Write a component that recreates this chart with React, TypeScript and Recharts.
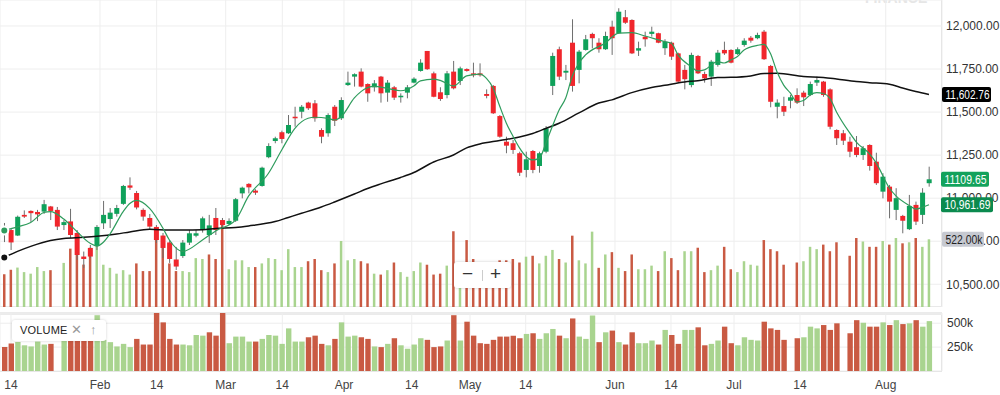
import React from "react";
import {
  ComposedChart,
  Bar,
  Line,
  Cell,
  XAxis,
  YAxis,
  CartesianGrid,
  ReferenceLine,
} from "recharts";

// daily OHLC, one entry per trading session (left to right)
const opens = [
  10835, 10815, 10783, 10903, 10926, 10920, 10922, 10952, 10932, 10844,
  10865, 10798, 10661, 10711, 10722, 10854, 10879, 10909, 10967, 11074,
  11030, 10932, 10885, 10833, 10783, 10743, 10644, 10664, 10742, 10782,
  10815, 10786, 10885, 10873, 10850, 10869, 11028, 11083, 11044, 11071,
  11238, 11332, 11383, 11377, 11473, 11502, 11555, 11551, 11396, 11377,
  11531, 11464, 11657, 11706, 11735, 11663, 11644, 11706, 11613, 11644,
  11586, 11613, 11671, 11739, 11855, 11725, 11615, 11599, 11735, 11681,
  11750, 11725, 11725, 11605, 11652, 11477, 11328, 11319, 11261, 11164,
  11274, 11187, 11270, 11652, 11865, 11729, 11903, 11745, 11861, 11954,
  11903, 11865, 11996, 11958, 12051, 12035, 11857, 11938, 11954, 11958,
  11871, 11903, 11841, 11745, 11657, 11826, 11721, 11706, 11774, 11861,
  11861, 11837, 11890, 11932, 11929, 11967, 11768, 11531, 11535, 11566,
  11599, 11613, 11599, 11671, 11677, 11632, 11396, 11377, 11328, 11296,
  11251, 11309, 11212, 11038, 11067, 10932, 10897, 10820, 10961, 10903,
  11087,
];
const highs = [
  10856, 10821, 10899, 10929, 10929, 10932, 10990, 10955, 10949, 10873,
  10938, 10815, 10690, 10728, 10844, 10984, 10943, 10961, 11077, 11121,
  11042, 10941, 10908, 10844, 10798, 10757, 10717, 10757, 10815, 10815,
  10893, 10903, 10943, 10885, 10883, 11001, 11067, 11087, 11052, 11183,
  11319, 11357, 11392, 11483, 11531, 11541, 11560, 11570, 11406, 11493,
  11541, 11586, 11735, 11725, 11754, 11667, 11686, 11710, 11686, 11652,
  11609, 11657, 11702, 11807, 11855, 11735, 11644, 11739, 11797, 11764,
  11754, 11787, 11783, 11632, 11657, 11483, 11357, 11338, 11270, 11270,
  11280, 11270, 11419, 11845, 11880, 11774, 12039, 11861, 11948, 11961,
  11929, 11967, 12031, 12103, 12093, 12039, 11909, 11967, 11996, 11961,
  11923, 11909, 11845, 11774, 11845, 11832, 11735, 11803, 11861, 11909,
  11865, 11876, 11929, 11942, 11961, 11977, 11774, 11574, 11589, 11599,
  11638, 11624, 11677, 11706, 11681, 11638, 11400, 11396, 11357, 11361,
  11303, 11313, 11264, 11145, 11077, 11058, 10903, 11019, 10980, 11058,
  11183,
];
const lows = [
  10745, 10699, 10780, 10885, 10862, 10867, 10909, 10873, 10815, 10815,
  10769, 10641, 10595, 10653, 10699, 10821, 10827, 10893, 10961, 11048,
  10935, 10869, 10821, 10740, 10653, 10624, 10583, 10653, 10728, 10773,
  10800, 10740, 10786, 10827, 10844, 10862, 10999, 11028, 11019, 11067,
  11232, 11319, 11319, 11373, 11415, 11464, 11512, 11444, 11319, 11357,
  11419, 11454, 11652, 11648, 11644, 11560, 11619, 11555, 11560, 11570,
  11555, 11580, 11667, 11735, 11745, 11586, 11565, 11580, 11632, 11657,
  11735, 11702, 11706, 11580, 11489, 11351, 11261, 11257, 11129, 11121,
  11145, 11148, 11261, 11599, 11686, 11686, 11619, 11667, 11857, 11870,
  11845, 11861, 11832, 11954, 12012, 11837, 11826, 11880, 11938, 11900,
  11832, 11803, 11671, 11632, 11644, 11721, 11671, 11652, 11764, 11832,
  11783, 11832, 11880, 11903, 11923, 11803, 11528, 11464, 11477, 11522,
  11547, 11535, 11593, 11652, 11589, 11400, 11309, 11309, 11238, 11238,
  11222, 11160, 11077, 10999, 10883, 10873, 10796, 10815, 10844, 10850,
  11067,
];
const closes = [
  10803, 10743, 10892, 10893, 10913, 10906, 10965, 10926, 10835, 10861,
  10786, 10670, 10647, 10661, 10833, 10903, 10916, 10943, 11071, 11061,
  10946, 10893, 10835, 10757, 10711, 10647, 10603, 10742, 10796, 10796,
  10883, 10842, 10815, 10844, 10868, 10994, 11061, 11063, 11032, 11177,
  11303, 11348, 11344, 11425, 11464, 11531, 11522, 11464, 11357, 11483,
  11450, 11570, 11671, 11720, 11648, 11609, 11667, 11609, 11671, 11584,
  11595, 11644, 11694, 11787, 11749, 11589, 11576, 11725, 11638, 11754,
  11739, 11714, 11714, 11594, 11493, 11357, 11305, 11280, 11148, 11226,
  11164, 11261, 11406, 11826, 11706, 11740, 11652, 11851, 11923, 11929,
  11865, 11942, 11929, 12083, 12019, 11841, 11871, 11923, 11967, 11903,
  11909, 11822, 11677, 11691, 11832, 11725, 11696, 11793, 11845, 11841,
  11787, 11865, 11915, 11915, 11948, 11807, 11560, 11555, 11502, 11586,
  11555, 11586, 11663, 11686, 11599, 11415, 11348, 11334, 11270, 11251,
  11290, 11187, 11087, 11125, 10980, 11000, 10869, 10955, 10864, 11032,
  11109.65,
];

// volume in thousands (null = no print that day)
const volumes: (number | null)[] = [
  252, 287, 304, 269, 257, 308, 277, 284, null, 340,
  450, 405, 327, 457, 584, 326, 302, 257, 284, 250,
  336, 277, 277, 615, 509, 336, 277, 277, 269, 377,
  370, 405, 370, 665, 291, 360, 360, 308, 308, 336,
  377, 370, 284, 446, 308, 308, 353, 370, 284, 269,
  336, 509, 360, 370, 353, 336, 257, 250, 284, 343,
  269, 233, 277, 343, 326, 250, 257, 319, 584, 319,
  516, 370, 291, 284, 326, 360, 360, 370, 343, 388,
  395, 336, 395, 440, 370, 343, 550, 360, 336, 581,
  302, 405, 423, 302, 277, 405, 291, 291, 319, 277,
  430, 377, 284, 430, 430, 457, 269, 284, 319, 464,
  291, 269, 353, 326, 319, 516, 446, 430, 326, null,
  343, 353, 464, 446, 481, 430, 499, null, 395, 532,
  505, 464, 464, 509, 481, 532, 491, 499, 532, 464,
  522,
];
// u = up day volume, d = down day volume
const volumeDir =
  "dduuuuud-u" + "dddduuuuuu" + "ddddddduuu" + "uddduuuudu" +
  "uuuuuudddu" + "duuuddudud" + "uuuudddudu" + "dddddddddu" +
  "duuududuuu" + "dududduuud" + "udduudduud" + "duuuudddd-" +
  "duuuddd-dd" + "uddudududu" + "u";

// moving averages: [session, value]
const fastMa: [number, number][] = [
  [0, 10812], [2, 10833], [4, 10859], [6, 10917], [7, 10922], [9, 10879],
  [11, 10806], [13, 10738], [14, 10722], [15, 10744], [16, 10792], [18, 10922],
  [19, 10969], [20, 10987], [22, 10941], [24, 10827], [25, 10757], [27, 10691],
  [30, 10757], [32, 10810], [35, 10873], [37, 11013], [40, 11145], [42, 11280],
  [44, 11406], [46, 11464], [47, 11470], [49, 11463], [50, 11454], [51, 11473],
  [53, 11582], [54, 11619], [56, 11649], [58, 11638], [60, 11624], [62, 11652],
  [63, 11681], [65, 11692], [66, 11684], [68, 11652], [70, 11710], [72, 11721],
  [73, 11696], [74, 11640], [75, 11535], [76, 11437], [77, 11361], [78, 11292],
  [79, 11242], [80, 11222], [81, 11231], [82, 11321], [83, 11419], [84, 11512],
  [85, 11582], [86, 11710], [87, 11785], [88, 11832], [91, 11901], [93, 11959],
  [95, 11961], [97, 11942], [100, 11909], [101, 11900], [102, 11832], [104, 11764],
  [105, 11739], [106, 11745], [108, 11793], [109, 11785], [110, 11803], [111, 11823],
  [112, 11861], [114, 11887], [115, 11893], [116, 11840], [117, 11733], [118, 11657],
  [119, 11611], [120, 11559], [121, 11567], [122, 11599], [123, 11613], [124, 11608],
  [125, 11580], [126, 11501], [128, 11379], [129, 11326], [131, 11257], [132, 11205],
  [134, 11059], [135, 11013], [137, 10958], [138, 10937], [139, 10947], [140, 10961.69],
];
const slowMa: [number, number][] = [
  [0, 10656], [2, 10691], [4, 10720], [7, 10754], [9, 10766], [12, 10773],
  [14, 10779], [17, 10792], [19, 10804], [22, 10819], [25, 10815], [27, 10815],
  [30, 10817], [32, 10824], [35, 10830], [37, 10839], [41, 10864], [43, 10888],
  [45, 10912], [48, 10949], [50, 10978], [53, 11024], [55, 11056], [57, 11083],
  [60, 11120], [62, 11149], [65, 11210], [68, 11251], [70, 11292], [72, 11315],
  [75, 11335], [78, 11355], [80, 11376], [82, 11405], [84, 11435], [87, 11495],
  [90, 11553], [92, 11571], [95, 11613], [98, 11643], [100, 11656], [103, 11675],
  [105, 11682], [108, 11701], [110, 11702], [113, 11710], [115, 11724], [117, 11725],
  [121, 11707], [124, 11701], [126, 11692], [129, 11677], [131, 11671], [134, 11662],
  [136, 11640], [138, 11620], [140, 11602.76],
];

// date ticks sit between sessions when the date falls on a weekend
const dateTicks = [1.01, 14.49, 23.07, 33.52, 42.09, 51.43, 61.69, 70.51, 78.94, 92.46, 100.94, 110.48, 120.47, 133.45];
const dateLabels = ["14", "Feb", "14", "Mar", "14", "Apr", "14", "May", "14", "Jun", "14", "Jul", "14", "Aug"];
const priceTicks = [10500, 10750, 11000, 11250, 11500, 11750, 12000];
const volumeTicks = [250, 500];

const X_DOMAIN: [number, number] = [-0.65, 141.97];
const PRICE_DOMAIN: [number, number] = [10368, 12151];
const OVERLAY_VOL_DOMAIN: [number, number] = [0, 2367];

const UP = "#0fa15a";
const DOWN = "#f0262c";
const VOL_UP = "#a9d48f";
const VOL_DOWN = "#c95a43";
const FONT = "'Liberation Sans', Arial, Helvetica, sans-serif";

const fastMap = new Map(fastMa);
const slowMap = new Map(slowMa);

const rows = opens.map((open, i) => ({
  i,
  open,
  high: highs[i],
  low: lows[i],
  close: closes[i],
  volume: volumes[i],
  volUp: volumeDir[i] === "u",
  fast: fastMap.get(i) ?? null,
  slow: slowMap.get(i) ?? null,
}));

function Candle(props: any) {
  const { x, y, width, height, payload } = props;
  if (!payload || height == null) return null;
  const { open, close, high, low } = payload;
  const top = Math.min(y, y + height);
  const h = Math.abs(height);
  const k = h / (high - low);
  const yOf = (v: number) => top + (high - v) * k;
  const bodyTop = yOf(Math.max(open, close));
  const bodyBot = yOf(Math.min(open, close));
  const cx = x + width / 2;
  return (
    <g>
      <line x1={cx} x2={cx} y1={top} y2={top + h} stroke="#6e6e6e" strokeWidth={1} />
      <rect
        x={x}
        y={bodyTop}
        width={width}
        height={Math.max(1.5, bodyBot - bodyTop)}
        fill={close >= open ? UP : DOWN}
      />
    </g>
  );
}

function RightTag(props: any) {
  const { viewBox, text, bg, color, w, tw, dx = 0 } = props;
  if (!viewBox) return null;
  const x = viewBox.x + viewBox.width + dx;
  const y = viewBox.y;
  return (
    <g>
      <rect x={x} y={y - 7.5} width={w} height={15} rx={2} fill={bg} />
      <text
        x={x + 3.5}
        y={y + 4.3}
        fontSize={12}
        fill={color}
        fontFamily={FONT}
        textLength={tw}
        lengthAdjust="spacingAndGlyphs"
      >
        {text}
      </text>
    </g>
  );
}

const fmtPrice = (v: number) =>
  v.toLocaleString("en-US", { minimumFractionDigits: 2, maximumFractionDigits: 2 });

export default function App() {
  return (
    <div
      style={{
        position: "absolute",
        left: 0,
        top: 0,
        width: 1000,
        height: 395,
        background: "#fff",
        fontFamily: FONT,
        overflow: "hidden",
      }}
    >
      {/* panel frames */}
      <div
        style={{
          position: "absolute", left: 0, top: 0, width: 942, height: 307,
          boxSizing: "border-box", borderRight: "1px solid #dedede", borderBottom: "1px solid #e4e4e4",
        }}
      />
      <div style={{ position: "absolute", left: 0, top: 312, width: 942, height: 3, background: "#ebebeb" }} />
      <div
        style={{
          position: "absolute", left: 0, top: 315, width: 942, height: 57,
          boxSizing: "border-box", borderRight: "1px solid #dedede", borderBottom: "1px solid #dedede",
        }}
      />
      <div
        style={{
          position: "absolute", left: 865, top: -9, fontSize: 14, fontWeight: 700,
          color: "#e6e6e6", lineHeight: "14px",
        }}
      >
        FINANCE
      </div>

      <div style={{ position: "absolute", left: 0, top: 0 }}>
        <ComposedChart width={1000} height={307} data={rows} margin={{ top: 0, right: 0, bottom: 0, left: 0 }}>
          <XAxis xAxisId="p" type="number" dataKey="i" domain={X_DOMAIN} ticks={dateTicks} hide allowDataOverflow />
          <XAxis xAxisId="v" type="number" dataKey="i" domain={X_DOMAIN} hide allowDataOverflow />
          <YAxis
            yAxisId="p"
            orientation="right"
            width={58}
            domain={PRICE_DOMAIN}
            ticks={priceTicks}
            tickFormatter={fmtPrice}
            axisLine={false}
            tickLine={false}
            tickSize={0}
            tickMargin={4}
            tick={{ fill: "#333", fontSize: 12, textAnchor: "start" }}
            interval={0}
            allowDataOverflow
          />
          <YAxis yAxisId="v" hide domain={OVERLAY_VOL_DOMAIN} allowDataOverflow />
          <CartesianGrid xAxisId="p" yAxisId="p" stroke="#eeeeee" />
          <Bar xAxisId="v" yAxisId="v" dataKey="volume" barSize={2.5} isAnimationActive={false}>
            {rows.map((r) => (
              <Cell key={`ov-${r.i}`} fill={r.volUp ? VOL_UP : VOL_DOWN} />
            ))}
          </Bar>
          <Bar
            xAxisId="p"
            yAxisId="p"
            dataKey={(d: any) => [d.low, d.high]}
            barSize={5}
            shape={<Candle />}
            isAnimationActive={false}
          />
          <Line xAxisId="p" yAxisId="p" type="monotone" dataKey="slow" stroke="#111" strokeWidth={1.5} dot={false} connectNulls isAnimationActive={false} />
          <Line xAxisId="p" yAxisId="p" type="monotone" dataKey="fast" stroke="#2f9c5d" strokeWidth={1.2} dot={false} connectNulls isAnimationActive={false} />
        </ComposedChart>
      </div>

      {/* last-value tags, drawn in a transparent chart on top so they cover the axis labels */}
      <div style={{ position: "absolute", left: 0, top: 0, pointerEvents: "none" }}>
        <ComposedChart width={1000} height={307} data={rows} margin={{ top: 0, right: 0, bottom: 0, left: 0 }}>
          <XAxis type="number" dataKey="i" domain={X_DOMAIN} hide allowDataOverflow />
          <YAxis yAxisId="p" orientation="right" width={58} domain={PRICE_DOMAIN} tick={false} axisLine={false} tickLine={false} allowDataOverflow />
          <YAxis yAxisId="v" hide domain={OVERLAY_VOL_DOMAIN} allowDataOverflow />
          <ReferenceLine yAxisId="p" y={11602.76} stroke="none" label={<RightTag text="11,602.76" bg="#000" color="#fff" w={49} tw={44} />} />
          <ReferenceLine yAxisId="p" y={11109.65} stroke="none" label={<RightTag text="11109.65" bg="#13a25c" color="#fff" w={48} tw={42} dx={-1} />} />
          <ReferenceLine yAxisId="p" y={10961.69} stroke="none" label={<RightTag text="10,961.69" bg="#0b8a4e" color="#fff" w={52} tw={46} dx={-1} />} />
          <ReferenceLine yAxisId="v" y={522} stroke="none" label={<RightTag text="522.00k" bg="#c6c9d1" color="#222" w={42} tw={37} />} />
        </ComposedChart>
      </div>

      <div style={{ position: "absolute", left: 0, top: 313 }}>
        <ComposedChart width={1000} height={82} data={rows} margin={{ top: 0, right: 0, bottom: 0, left: 0 }}>
          <XAxis
            type="number"
            dataKey="i"
            domain={X_DOMAIN}
            ticks={dateTicks}
            tickFormatter={(_v: number, idx: number) => dateLabels[idx]}
            interval={0}
            axisLine={false}
            tickLine={false}
            tickSize={0}
            tickMargin={9}
            height={24}
            tick={{ fill: "#444", fontSize: 12 }}
            allowDataOverflow
          />
          <YAxis
            orientation="right"
            width={58}
            domain={[0, 607]}
            ticks={volumeTicks}
            tickFormatter={(v: number) => `${v}k`}
            axisLine={false}
            tickLine={false}
            tickSize={0}
            tickMargin={5}
            tick={{ fill: "#333", fontSize: 12, textAnchor: "start" }}
            interval={0}
            allowDataOverflow
          />
          <CartesianGrid stroke="#eeeeee" />
          <Bar dataKey="volume" barSize={5.4} isAnimationActive={false}>
            {rows.map((r) => (
              <Cell key={`v-${r.i}`} fill={r.volUp ? VOL_UP : VOL_DOWN} />
            ))}
          </Bar>
        </ComposedChart>
      </div>

      {/* zoom control */}
      <div
        style={{
          position: "absolute", left: 454, top: 262, width: 57, height: 26, background: "#fff",
          borderRadius: 3, boxShadow: "0 0 3px rgba(0,0,0,0.22)", color: "#333",
        }}
      >
        <span style={{ position: "absolute", left: 8, top: 1, fontSize: 19, lineHeight: "22px" }}>−</span>
        <span style={{ position: "absolute", left: 28, top: 8, width: 1, height: 11, background: "#ccc" }} />
        <span style={{ position: "absolute", left: 36, top: 1, fontSize: 19, lineHeight: "22px" }}>+</span>
      </div>

      {/* volume legend */}
      <div
        style={{
          position: "absolute", left: 12, top: 320, width: 94, height: 21, background: "#fff",
          borderRadius: 3, boxShadow: "0 0 3px rgba(0,0,0,0.18)",
        }}
      >
        <span style={{ position: "absolute", left: 8, top: 4, fontSize: 11, color: "#222", letterSpacing: 0.2 }}>VOLUME</span>
        <span style={{ position: "absolute", left: 59, top: 2, fontSize: 13, color: "#999" }}>✕</span>
        <span style={{ position: "absolute", left: 78, top: 2, fontSize: 13, color: "#999" }}>↑</span>
      </div>
    </div>
  );
}
